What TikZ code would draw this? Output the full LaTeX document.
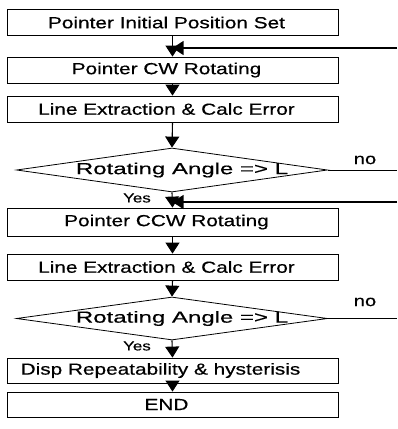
\documentclass[tikz,border=0pt]{standalone}
\usepackage{fontspec}
\setmainfont{Liberation Sans}[FakeStretch=1.3,FakeBold=0.5]
\newfontfamily\widefont{Liberation Sans}[FakeStretch=1.5,FakeBold=0.5]
\usetikzlibrary{arrows.meta,shapes.geometric}
\newcommand{\txtshiftleft}{\kern12pt}
\begin{document}
\begin{tikzpicture}[x=1pt,y=-1pt,
  stepbox/.style={draw,line width=0.8pt,minimum width=331pt,minimum height=26pt,inner sep=0pt,
    font=\fontsize{16}{18}\selectfont},
  decision/.style={draw,line width=0.8pt,diamond,minimum width=311pt,minimum height=44pt,inner sep=0pt},
  dtext/.style={font=\widefont\fontsize{16}{18}\selectfont,inner sep=0pt},
  lbl/.style={font=\fontsize{15.5}{18}\selectfont,inner sep=0pt},
  ylbl/.style={font=\fontsize{13}{15}\selectfont,inner sep=0pt},
  arr/.style={line width=1.1pt,-{Triangle[length=11pt,width=14pt]}},
  ln/.style={line width=1pt}]
\useasboundingbox (0,0) rectangle (397,429);
\node[stepbox] (b1) at (172.5,22.5) {Pointer Initial Position Set\txtshiftleft};
\node[stepbox] (b2) at (172.5,70) {Pointer CW Rotating\txtshiftleft};
\node[stepbox] (b3) at (172.5,109) {Line Extraction \& Calc Error\txtshiftleft};
\node[decision] (d1) at (172,170) {};
\node[dtext] (d1t) at (182,170) {Rotating Angle => L};
\node[stepbox,minimum height=28pt] (b4) at (172.5,222) {Pointer CCW Rotating\txtshiftleft};
\node[stepbox] (b5) at (172.5,267) {Line Extraction \& Calc Error\txtshiftleft};
\node[decision,minimum height=43pt] (d2) at (172,318.5) {};
\node[dtext] (d2t) at (182,318.5) {Rotating Angle => L};
\node[stepbox,minimum height=25pt] (b6) at (172.5,370.5) {Disp Repeatability \& hysterisis\kern24pt};
\node[stepbox,minimum height=25pt] (b7) at (172.5,404.5) {END\txtshiftleft};
% labels
\node[lbl] (no1) at (365,160) {no};
\node[lbl] (no2) at (365,302) {no};
\node[ylbl] (y1) at (137,198) {Yes};
\node[ylbl] (y2) at (137,346) {Yes};
% free ends
\coordinate (f1) at (397,48);
\coordinate (f2) at (397,202);
\coordinate (n1) at (397,170);
\coordinate (n2) at (397,318.5);
% connectors
\draw[arr] (b1.south) -- (b2.north);
\draw[arr] (f1) -- (f1 -| b1.south);
\draw[arr] (b2.south) -- (b3.north);
\draw[arr] (b3.south) -- (d1.north);
\draw[ln] (d1.east) -- (n1);
\draw[arr] (d1.south) -- (b4.north);
\draw[arr] (f2) -- (f2 -| b4.north);
\draw[arr] (b4.south) -- (b5.north);
\draw[arr] (b5.south) -- (d2.north);
\draw[ln] (d2.east) -- (n2);
\draw[arr] (d2.south) -- (b6.north);
\draw[arr] (b6.south) -- (b7.north);
\end{tikzpicture}
\end{document}
